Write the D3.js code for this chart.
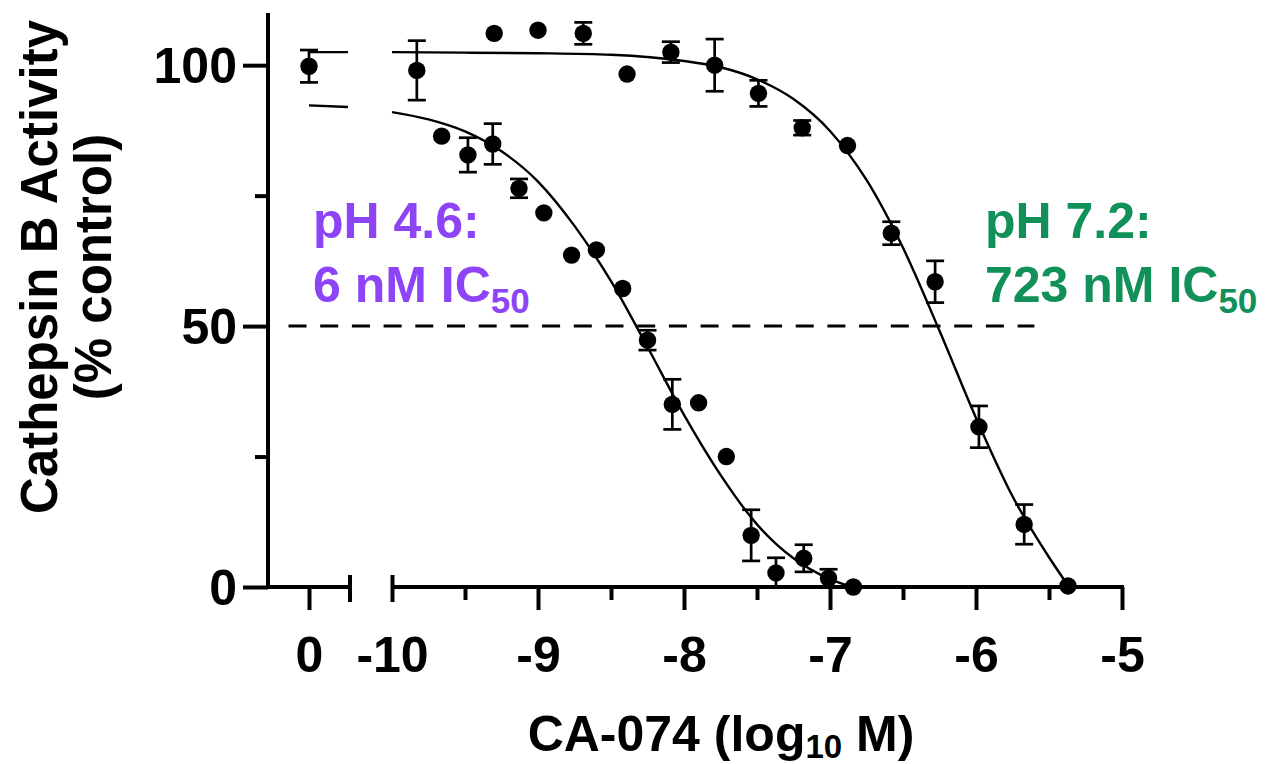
<!DOCTYPE html>
<html>
<head>
<meta charset="utf-8">
<script src="https://cdn.jsdelivr.net/npm/d3@7"></script>
<style>
  html, body { margin: 0; padding: 0; background: #fff; }
  svg { display: block; }
  text { font-family: "Liberation Sans", Arial, Helvetica, sans-serif; font-weight: bold; }
</style>
</head>
<body>
<svg id="chart" width="1268" height="764"></svg>
<script>
// ---------------- data ----------------
// Control (no inhibitor), plotted on the separate "0" segment
const controlX = [0];
const controlY = [99.8];
const controlSD = [3.1];

// pH 7.2 series: log10 [CA-074] (M), % activity, SD
const ph72X = [-9.83, -9.30, -9.00, -8.69, -8.39, -8.09, -7.79, -7.49, -7.19, -6.88, -6.58, -6.28, -5.98, -5.67, -5.37];
const ph72Y = [99.0, 106.1, 106.7, 106.1, 98.3, 102.5, 100.0, 94.6, 88.0, 84.6, 67.8, 58.5, 30.7, 12.0, 0.2];
const ph72SD = [5.7, 0, 0, 2.1, 0, 2.0, 5.0, 2.5, 1.4, 0, 2.2, 4.0, 4.0, 3.8, 0];

// pH 4.6 series
const ph46X = [-9.66, -9.48, -9.31, -9.13, -8.96, -8.77, -8.60, -8.42, -8.25, -8.08, -7.90, -7.71, -7.54, -7.37, -7.18, -7.01, -6.84];
const ph46Y = [86.4, 82.8, 84.9, 76.4, 71.7, 63.6, 64.6, 57.2, 47.3, 35.0, 35.3, 25.0, 9.9, 2.7, 5.5, 1.7, 0.0];
const ph46SD = [0, 3.3, 3.9, 1.8, 0, 0, 0, 0, 1.9, 4.8, 0, 0, 4.9, 2.9, 2.6, 1.7, 0];

// fitted curves
const fit72LeftX = [0, 0.95];
const fit72LeftY = [102.5, 102.5];
const fit72X = [-10, -9.5, -9, -8.5, -8, -7.75, -7.5, -7.25, -7, -6.75, -6.5, -6.25, -6, -5.75, -5.5, -5.37];
const fit72Y = [102.5, 102.4, 102.3, 102.0, 100.8, 99.6, 97.3, 93.5, 87.4, 78.0, 65.0, 49.1, 32.4, 17.4, 5.7, 0.3];

const fit46LeftX = [0, 0.95];
const fit46LeftY = [92.3, 92.0];
const fit46X = [-10, -9.75, -9.5, -9.25, -9, -8.75, -8.5, -8.25, -8, -7.75, -7.5, -7.25, -7, -6.85];
const fit46Y = [91.0, 89.6, 87.3, 83.5, 77.7, 69.2, 58.6, 46.0, 33.0, 21.5, 12.0, 5.5, 1.5, 0.0];

// 50 % reference line (start on control segment, end on log segment)
const refLineY = 50;
const refLineStartLeft = -0.5;
const refLineEndRight = -5.6;

// axis ticks
const yMajorTicks = [0, 50, 100];
const yMinorTicks = [25, 75];
const xLeftTicks = [0];
const xRightTicks = [-10, -9, -8, -7, -6, -5];
const xRightMinor = [-9.5, -8.5, -7.5, -6.5, -5.5];

// text
const yTitle1 = "Cathepsin B Activity";
const yTitle2 = "(% control)";
const xTitleMain = "CA-074 (log";
const xTitleSub = "10";
const xTitleEnd = " M)";
const ann46 = ["pH 4.6:", "6 nM IC", "50"];
const ann72 = ["pH 7.2:", "723 nM IC", "50"];

// ---------------- drawing ----------------
const svg = d3.select("#chart");
const purple = "#8d43f6";
const green = "#11905a";

const y = d3.scaleLinear().domain([0, 110]).range([587, 13]);
const xL = d3.scaleLinear().domain([-1, 1]).range([268, 350]);
const xR = d3.scaleLinear().domain([-10, -5]).range([392, 1122]);

const AX_W = 4;
const FS = 50;
const fmt = d => String(d);   // plain hyphen-minus, as in the reference

// Y axis
const gy = svg.append("g").attr("transform", `translate(${xL(-1)},0)`);
gy.call(d3.axisLeft(y).tickValues(yMajorTicks).tickSize(25).tickSizeOuter(0).tickPadding(6).tickFormat(fmt));
gy.select(".domain").attr("d", `M0,${y(110)}V${y(0) + AX_W / 2}`);
const gyMinor = svg.append("g").attr("transform", `translate(${xL(-1)},0)`);
gyMinor.call(d3.axisLeft(y).tickValues(yMinorTicks).tickSize(13).tickFormat(""));
gyMinor.select(".domain").remove();

// X axis, control segment
const gxl = svg.append("g").attr("transform", `translate(0,${y(0)})`);
gxl.call(d3.axisBottom(xL).tickValues(xLeftTicks).tickSize(23).tickSizeOuter(0).tickFormat(fmt));
gxl.select(".domain").attr("d", `M${xL(-1)},0H${xL(1)}`);
gxl.append("line").attr("class", "cap").attr("x1", xL(1)).attr("x2", xL(1)).attr("y1", -12).attr("y2", 15);

// X axis, log segment
const gxr = svg.append("g").attr("transform", `translate(0,${y(0)})`);
gxr.call(d3.axisBottom(xR).tickValues(xRightTicks).tickSize(23).tickSizeOuter(0).tickFormat(fmt));
gxr.select(".domain").attr("d", `M${xR(-10)},0H${xR(-5) + AX_W / 2}`);
gxr.selectAll(".tick").filter(d => d === -10).select("line").attr("y1", -12).attr("y2", 15);
const gxrMinor = svg.append("g").attr("transform", `translate(0,${y(0)})`);
gxrMinor.call(d3.axisBottom(xR).tickValues(xRightMinor).tickSize(13).tickFormat(""));
gxrMinor.select(".domain").remove();

// axis styling
svg.selectAll(".domain, .tick line, .cap")
  .attr("stroke", "#000").attr("stroke-width", AX_W).attr("stroke-linecap", "butt");
svg.selectAll(".tick text")
  .attr("font-size", FS).attr("font-family", "Liberation Sans, Arial, sans-serif")
  .attr("font-weight", "bold").attr("fill", "#000");
gxl.selectAll(".tick text").attr("y", 85).attr("dy", null);
gxr.selectAll(".tick text").attr("y", 85).attr("dy", null);
gy.selectAll(".tick text").attr("dy", "0.35em");

// 50% dashed reference line
svg.append("line")
  .attr("x1", xL(refLineStartLeft)).attr("x2", xR(refLineEndRight))
  .attr("y1", y(refLineY)).attr("y2", y(refLineY))
  .attr("stroke", "#000").attr("stroke-width", 3).attr("stroke-dasharray", "18,13.7");

// fitted curves
const lineL = d3.line().x(d => xL(d[0])).y(d => y(d[1])).curve(d3.curveMonotoneX);
const lineR = d3.line().x(d => xR(d[0])).y(d => y(d[1])).curve(d3.curveMonotoneX);
function drawCurve(fn, xs, ys) {
  svg.append("path").datum(d3.zip(xs, ys)).attr("d", fn)
    .attr("fill", "none").attr("stroke", "#000").attr("stroke-width", 2.4);
}
drawCurve(lineL, fit72LeftX, fit72LeftY);
drawCurve(lineL, fit46LeftX, fit46LeftY);
drawCurve(lineR, fit72X, fit72Y);
drawCurve(lineR, fit46X, fit46Y);

// points with SD error bars
function drawPoints(scaleX, xs, ys, sds) {
  const data = d3.zip(xs, ys, sds);
  const g = svg.append("g");
  const eb = g.selectAll("g.eb").data(data.filter(d => d[2] > 0)).join("g").attr("class", "eb");
  const sw = 2.7;
  eb.append("line")
    .attr("x1", d => scaleX(d[0])).attr("x2", d => scaleX(d[0]))
    .attr("y1", d => y(d[1] + d[2])).attr("y2", d => y(Math.max(0, d[1] - d[2])))
    .attr("stroke", "#000").attr("stroke-width", sw);
  eb.append("line")
    .attr("x1", d => scaleX(d[0]) - 9).attr("x2", d => scaleX(d[0]) + 9)
    .attr("y1", d => y(d[1] + d[2])).attr("y2", d => y(d[1] + d[2]))
    .attr("stroke", "#000").attr("stroke-width", sw);
  eb.append("line")
    .attr("x1", d => scaleX(d[0]) - 9).attr("x2", d => scaleX(d[0]) + 9)
    .attr("y1", d => y(Math.max(0, d[1] - d[2]))).attr("y2", d => y(Math.max(0, d[1] - d[2])))
    .attr("stroke", "#000").attr("stroke-width", sw);
  g.selectAll("circle").data(data).join("circle")
    .attr("cx", d => scaleX(d[0])).attr("cy", d => y(d[1])).attr("r", 8.7).attr("fill", "#000");
}
drawPoints(xL, controlX, controlY, controlSD);
drawPoints(xR, ph72X, ph72Y, ph72SD);
drawPoints(xR, ph46X, ph46Y, ph46SD);

// annotations
function annotate(x, color, lines) {
  svg.append("text").attr("x", x).attr("y", 238).attr("font-size", FS).attr("fill", color).text(lines[0]);
  const t2 = svg.append("text").attr("x", x).attr("y", 302).attr("font-size", FS).attr("fill", color);
  t2.append("tspan").text(lines[1]);
  t2.append("tspan").attr("font-size", 35).attr("dy", 11).text(lines[2]);
}
annotate(313, purple, ann46);
annotate(985, green, ann72);

// y title
svg.append("text").attr("transform", "translate(57,267) rotate(-90)")
  .attr("text-anchor", "middle").attr("font-size", 51).attr("fill", "#000").text(yTitle1);
svg.append("text").attr("transform", "translate(111,267) rotate(-90)")
  .attr("text-anchor", "middle").attr("font-size", 51).attr("fill", "#000").text(yTitle2);

// x title
const xt = svg.append("text").attr("x", 721).attr("y", 751).attr("text-anchor", "middle")
  .attr("font-size", FS).attr("fill", "#000");
xt.append("tspan").text(xTitleMain);
xt.append("tspan").attr("font-size", 33).attr("dy", 7).text(xTitleSub);
xt.append("tspan").attr("dy", -7).text(xTitleEnd);
</script>
</body>
</html>
